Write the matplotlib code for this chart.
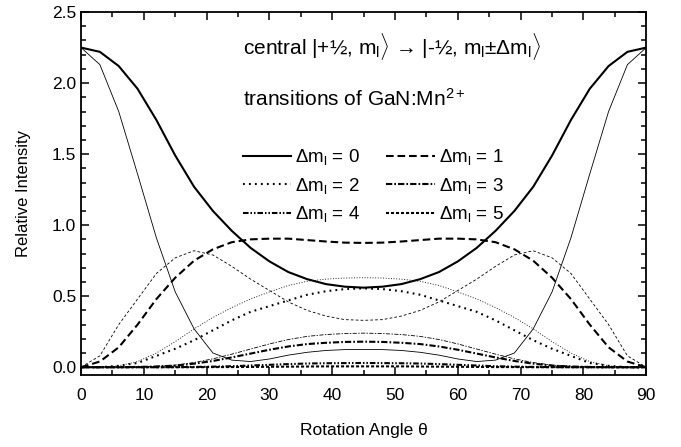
import numpy as np
import matplotlib
matplotlib.use("Agg")
import matplotlib.pyplot as plt

plt.rcParams['font.family'] = ['Liberation Sans', 'DejaVu Sans']
plt.rcParams['mathtext.fontset'] = 'custom'
plt.rcParams['mathtext.rm'] = 'Liberation Sans'
plt.rcParams['mathtext.it'] = 'Liberation Sans:italic'
plt.rcParams['lines.scale_dashes'] = False

# rotation angle (deg)
theta = [0, 3, 6, 9, 12, 15, 18, 21, 24, 27, 30, 33, 36, 39, 42, 45,
         48, 51, 54, 57, 60, 63, 66, 69, 72, 75, 78, 81, 84, 87, 90]

# thick curves: delta m_l = 0..5
dm0 = [2.25, 2.22, 2.12, 1.96, 1.74, 1.49, 1.27, 1.10, 0.96, 0.84, 0.745, 0.67, 0.62, 0.585, 0.567, 0.56,
       0.567, 0.585, 0.62, 0.67, 0.745, 0.84, 0.96, 1.10, 1.27, 1.49, 1.74, 1.96, 2.12, 2.22, 2.25]
dm1 = [0.0, 0.04, 0.14, 0.30, 0.48, 0.63, 0.75, 0.83, 0.88, 0.90, 0.905, 0.905, 0.895, 0.885, 0.877, 0.875,
       0.877, 0.885, 0.895, 0.905, 0.905, 0.90, 0.88, 0.83, 0.75, 0.63, 0.48, 0.30, 0.14, 0.04, 0.0]
dm2 = [0.0, 0.0, 0.01, 0.03, 0.08, 0.13, 0.19, 0.26, 0.33, 0.39, 0.43, 0.47, 0.51, 0.535, 0.55, 0.555,
       0.55, 0.535, 0.51, 0.47, 0.43, 0.39, 0.33, 0.26, 0.19, 0.13, 0.08, 0.03, 0.01, 0.0, 0.0]
dm3 = [0, 0, 0, 0.002, 0.005, 0.011, 0.025, 0.044, 0.069, 0.096, 0.123, 0.146, 0.163, 0.172, 0.178, 0.18,
       0.178, 0.172, 0.163, 0.146, 0.123, 0.096, 0.069, 0.044, 0.025, 0.011, 0.005, 0.002, 0, 0, 0]
dm4 = [0, 0, 0, 0, 0, 0.001, 0.002, 0.004, 0.007, 0.012, 0.017, 0.022, 0.026, 0.028, 0.029, 0.03,
       0.029, 0.028, 0.026, 0.022, 0.017, 0.012, 0.007, 0.004, 0.002, 0.001, 0, 0, 0, 0, 0]
dm5 = [0, 0, 0, 0, 0, 0, 0, 0.001, 0.001, 0.002, 0.003, 0.004, 0.005, 0.006, 0.006, 0.006,
       0.006, 0.006, 0.005, 0.004, 0.003, 0.002, 0.001, 0.001, 0, 0, 0, 0, 0, 0, 0]

# thin curves
thin_solid = [2.25, 2.13, 1.80, 1.36, 0.91, 0.53, 0.27, 0.10, 0.05, 0.04, 0.058, 0.085, 0.105, 0.118, 0.124, 0.125,
              0.124, 0.118, 0.105, 0.085, 0.058, 0.04, 0.05, 0.10, 0.27, 0.53, 0.91, 1.36, 1.80, 2.13, 2.25]
thin_dash = [0.0, 0.08, 0.30, 0.48, 0.66, 0.77, 0.82, 0.79, 0.71, 0.62, 0.54, 0.46, 0.40, 0.36, 0.335, 0.33,
             0.335, 0.36, 0.40, 0.46, 0.54, 0.62, 0.71, 0.79, 0.82, 0.77, 0.66, 0.48, 0.30, 0.08, 0.0]
thin_dot = [0.0, 0.0, 0.01, 0.04, 0.10, 0.18, 0.27, 0.35, 0.42, 0.48, 0.53, 0.575, 0.605, 0.62, 0.628, 0.63,
            0.628, 0.62, 0.605, 0.575, 0.53, 0.48, 0.42, 0.35, 0.27, 0.18, 0.10, 0.04, 0.01, 0.0, 0.0]
thin_dashdot = [0, 0, 0, 0.002, 0.007, 0.015, 0.033, 0.059, 0.092, 0.128, 0.164, 0.195, 0.217, 0.230, 0.237, 0.24,
                0.237, 0.230, 0.217, 0.195, 0.164, 0.128, 0.092, 0.059, 0.033, 0.015, 0.007, 0.002, 0, 0, 0]

labels = ["\u0394$\\mathrm{m}_\\mathrm{l}$ = %d" % i for i in range(6)]

fig = plt.figure(figsize=(6.81, 4.47), dpi=100)
ax = fig.add_axes([0.119, 0.161, 0.830, 0.812])

thin = 0.6
thick = 1.5
ax.plot(theta, thin_solid, color='black', lw=thin)
ax.plot(theta, thin_dash, color='black', lw=thin, dashes=(2.0, 1.5))
ax.plot(theta, thin_dot, color='black', lw=thin, dashes=(0.7, 1.2))
ax.plot(theta, thin_dashdot, color='black', lw=thin, dashes=(3.0, 1.0, 1.0, 1.0))

h = []
h += ax.plot(theta, dm0, color='black', lw=thick)
h += ax.plot(theta, dm1, color='black', lw=thick, dashes=(5.5, 2.8))
h += ax.plot(theta, dm2, color='black', lw=thick, dashes=(1.3, 3.0))
h += ax.plot(theta, dm3, color='black', lw=thick, dashes=(4.5, 1.5, 1.2, 1.5))
h += ax.plot(theta, dm4, color='black', lw=thick, dashes=(4.0, 1.4, 1.1, 1.4, 1.1, 1.4))
h += ax.plot(theta, dm5, color='black', lw=thick, dashes=(2.2, 1.4))

ax.set_xlim(0, 90)
ax.set_ylim(-0.055, 2.5)
ax.set_xticks(np.arange(0, 91, 10))
ax.set_xticks(np.arange(0, 91, 5), minor=True)
ax.set_yticks(np.arange(0, 2.51, 0.5))
ax.set_yticks(np.arange(0, 2.51, 0.1), minor=True)
ax.yaxis.set_major_formatter(matplotlib.ticker.FormatStrFormatter('%.1f'))
ax.tick_params(which='both', direction='in', top=True, right=True, labelsize=12.5, width=1.1)
ax.tick_params(which='major', length=6)
ax.tick_params(which='minor', length=3.5)
ax.tick_params(axis='x', which='major', pad=9)
for s in ax.spines.values():
    s.set_linewidth(1.3)

ax.set_xlabel("Rotation Angle \u03b8", fontsize=12.5, labelpad=15)
ax.set_ylabel("Relative Intensity", fontsize=12, labelpad=15)

ax.text(0.287, 0.905,
        "central |+\u00bd, $\\mathrm{m}_\\mathrm{l}\\rangle$ \u2192 |-\u00bd, $\\mathrm{m}_\\mathrm{l}$\u00b1\u0394$\\mathrm{m}_\\mathrm{l}\\rangle$",
        transform=ax.transAxes, fontsize=15, va='center')
ax.text(0.287, 0.762, "transitions of GaN:Mn$^{2+}$",
        transform=ax.transAxes, fontsize=15, va='center')

# row-wise order for a 2-column legend
order = [0, 2, 4, 1, 3, 5]
leg = ax.legend([h[i] for i in order], [labels[i] for i in order],
                loc='upper left', bbox_to_anchor=(0.256, 0.674), ncol=2, frameon=False,
                fontsize=13.5, handlelength=2.6, handletextpad=0.2, columnspacing=1.4,
                labelspacing=0.45)

fig.savefig("out.png", dpi=100)
